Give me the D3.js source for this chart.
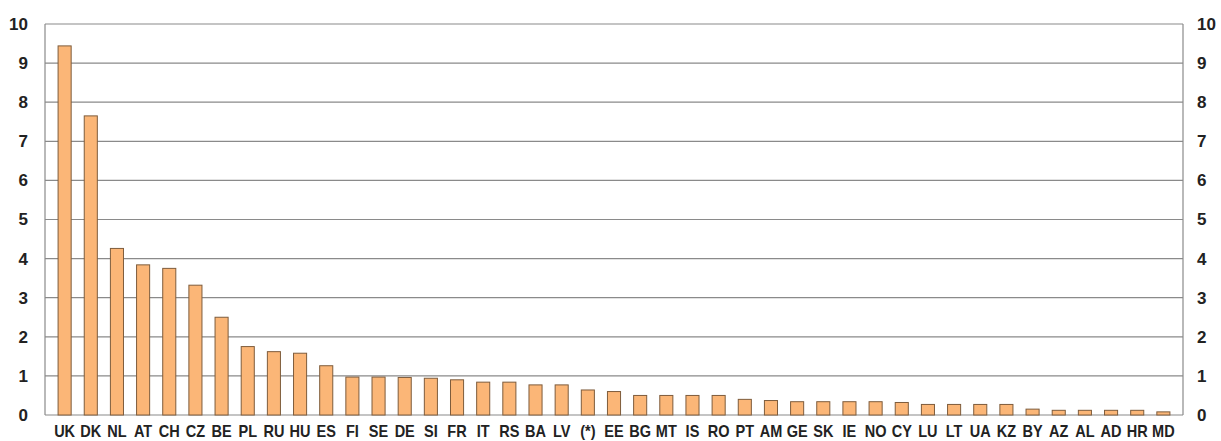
<!DOCTYPE html>
<html><head><meta charset="utf-8">
<script src="https://cdn.jsdelivr.net/npm/d3@7"></script>
<style>body{margin:0;background:#fff;} svg{display:block;}</style>
</head><body>
<svg id="c" width="1221" height="441"></svg>
<script>
const categories = ["UK","DK","NL","AT","CH","CZ","BE","PL","RU","HU","ES","FI","SE","DE","SI","FR","IT","RS","BA","LV","(*)","EE","BG","MT","IS","RO","PT","AM","GE","SK","IE","NO","CY","LU","LT","UA","KZ","BY","AZ","AL","AD","HR","MD"];
const values = [9.44,7.65,4.26,3.84,3.75,3.32,2.50,1.75,1.62,1.58,1.26,0.97,0.97,0.96,0.94,0.90,0.84,0.84,0.77,0.77,0.64,0.60,0.50,0.50,0.50,0.50,0.40,0.37,0.34,0.34,0.34,0.34,0.32,0.27,0.27,0.27,0.27,0.15,0.12,0.12,0.12,0.12,0.08];
const yTicks = [0,1,2,3,4,5,6,7,8,9,10];

const svg = d3.select("#c");
const L = 45, R = 1183, T = 24, B = 415;
const font = "'Liberation Sans',Arial,sans-serif";

const x = d3.scaleBand().domain(categories).range([L, R]).paddingInner(0.5).paddingOuter(0.5);
const y = d3.scaleLinear().domain([0, 10]).range([B, T]);

// gridlines
svg.append("g").selectAll("line").data(yTicks).join("line")
  .attr("x1", L).attr("x2", R)
  .attr("y1", d => y(d)).attr("y2", d => y(d))
  .attr("stroke", "#8a8a8a").attr("stroke-width", 1.2);

// axis frame lines
svg.append("line").attr("x1", L).attr("x2", L).attr("y1", T).attr("y2", B).attr("stroke", "#8a8a8a").attr("stroke-width", 1.2);
svg.append("line").attr("x1", R).attr("x2", R).attr("y1", T).attr("y2", B).attr("stroke", "#8a8a8a").attr("stroke-width", 1.2);

// bars
svg.append("g").selectAll("rect").data(values).join("rect")
  .attr("x", (d, i) => x(categories[i]))
  .attr("y", d => y(d))
  .attr("width", x.bandwidth())
  .attr("height", d => B - y(d))
  .attr("fill", "#fbb677")
  .attr("stroke", "#7e5c3c").attr("stroke-width", 1);

// left axis labels
const leftAxis = d3.axisLeft(y).tickValues(yTicks).tickSize(0).tickPadding(17);
const gl = svg.append("g").attr("transform", `translate(${L},0)`).call(leftAxis);
gl.select(".domain").remove();
gl.selectAll("text").attr("font-family", font).attr("font-weight", "bold").attr("font-size", 17).attr("fill", "#222");

const rightAxis = d3.axisRight(y).tickValues(yTicks).tickSize(0).tickPadding(14);
const gr = svg.append("g").attr("transform", `translate(${R},0)`).call(rightAxis);
gr.select(".domain").remove();
gr.selectAll("text").attr("font-family", font).attr("font-weight", "bold").attr("font-size", 17).attr("fill", "#222");

// category labels (condensed bold)
const bottomAxis = d3.axisBottom(x).tickSize(0).tickPadding(10.5);
const gb = svg.append("g").attr("transform", `translate(0,${B})`).call(bottomAxis);
gb.select(".domain").remove();
gb.selectAll("text").attr("font-family", font).attr("font-weight", "bold").attr("font-size", 16.5).attr("fill", "#222")
  .attr("transform", "scale(0.88,1)");
</script>
</body></html>
